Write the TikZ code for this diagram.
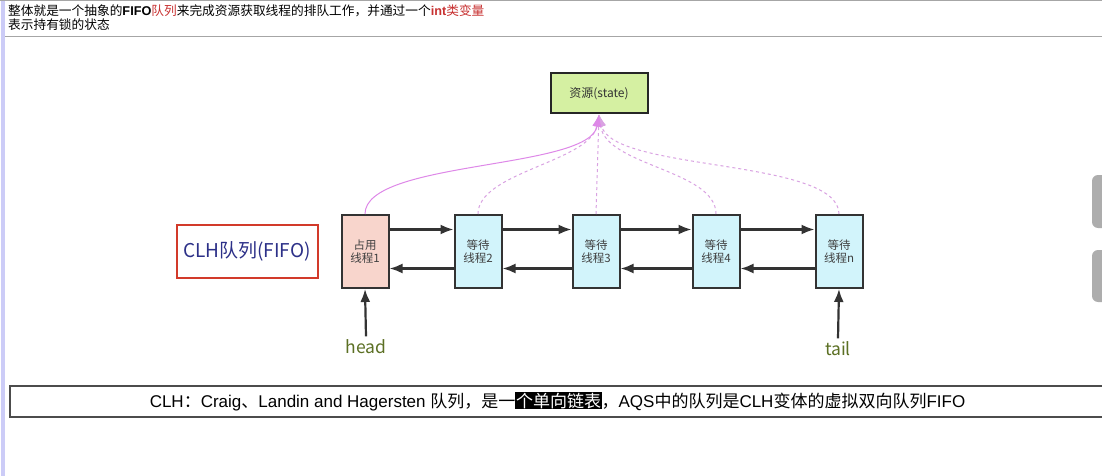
\documentclass[tikz,border=0pt]{standalone}
\usepackage{fontspec}
\setmainfont{Liberation Sans}
\newfontfamily\cjk{Noto Sans CJK SC}
\usetikzlibrary{arrows.meta,positioning}
\definecolor{holdred}{HTML}{F8D5CC}
\definecolor{waitblue}{HTML}{D2F4FB}
\definecolor{resgreen}{HTML}{D5F0A2}
\definecolor{linkviolet}{HTML}{D9A2E2}
\definecolor{tipviolet}{HTML}{DE88E8}
\definecolor{labelgreen}{HTML}{5C7024}
\definecolor{clhnavy}{HTML}{2C3088}
\definecolor{clhred}{HTML}{D23A2A}
\definecolor{headred}{HTML}{C83232}
\tikzstyle{thread}=[rectangle,draw=black!80,line width=2pt,minimum width=47pt,minimum height=73pt,inner sep=0pt,align=center,font=\cjk\fontsize{11.5}{13}\selectfont,text=black!75]
\tikzstyle{hold}=[thread,fill=holdred]
\tikzstyle{wait}=[thread,fill=waitblue]
\tikzstyle{resbox}=[rectangle,draw=black!85,line width=2pt,fill=resgreen,minimum width=97pt,minimum height=40pt,inner sep=0pt,font=\cjk\fontsize{12}{14}\selectfont,text=black!80]
\tikzstyle{link}=[-{Latex[length=13pt,width=10pt]},line width=2.2pt,draw=black!80]
\tikzstyle{share}=[-{Latex[length=12pt,width=9pt]},draw=linkviolet,line width=1pt]
\tikzstyle{pointer}=[font=\cjk\fontsize{17.5}{19}\selectfont,text=labelgreen]

\begin{document}
\begin{tikzpicture}[x=1pt,y=-1pt]
	  \useasboundingbox (0,0) rectangle (1102,476);
	  % window chrome
	  \fill [white] (0,0) rectangle (1102,476);
	  \fill [black!15!blue!20] (1,0) rectangle (5,476);
	  \draw [black!35,line width=1pt] (0,0.5) -- (1102,0.5);
	  \draw [black!35,line width=1pt] (5,37) -- (1102,37);
	  \fill [black!32,rounded corners=6pt] (1092,175) rectangle (1112,228);
	  \fill [black!32,rounded corners=6pt] (1092,250) rectangle (1112,302);
	  % header
	  \node (title) at (8,5) [anchor=north west,align=left,inner sep=0pt,font=\fontsize{12.7}{13.5}\selectfont] {{\cjk 整体就是一个抽象的}\textbf{FIFO}{\cjk\color{headred}队列}{\cjk 来完成资源获取线程的排队工作，并通过一个}\textcolor{headred}{\textbf{int}{\cjk 类变量}}\\{\cjk 表示持有锁的状态}};
	  % nodes
	  \node (res) at (599,93.5) [resbox] {资源(state)};
	  \node (t1) at (365,251.5) [hold] {占用\\线程1};
	  \node (t2) at (478,251.5) [wait] {等待\\线程2};
	  \node (t3) at (596,251.5) [wait] {等待\\线程3};
	  \node (t4) at (716,251.5) [wait] {等待\\线程4};
	  \node (tn) at (839,251.5) [wait] {等待\\线程n};
	  \node (clh) at (247,251) [rectangle,draw=clhred,line width=2pt,minimum width=141pt,minimum height=53pt,font=\cjk\fontsize{19}{21}\selectfont,text=clhnavy] {CLH队列(FIFO)};
	  \node (head) at (366,347) [pointer] {head};
	  \node (tail) at (838,349) [pointer] {tail};
	  % links
	  \draw [link] ([yshift=22pt]t1.east) -- ([yshift=22pt]t2.west);
	  \draw [link] ([yshift=22pt]t2.east) -- ([yshift=22pt]t3.west);
	  \draw [link] ([yshift=22pt]t3.east) -- ([yshift=22pt]t4.west);
	  \draw [link] ([yshift=22pt]t4.east) -- ([yshift=22pt]tn.west);
	  \draw [link] ([yshift=-17pt]t2.west) -- ([yshift=-17pt]t1.east);
	  \draw [link] ([yshift=-17pt]t3.west) -- ([yshift=-17pt]t2.east);
	  \draw [link] ([yshift=-17pt]t4.west) -- ([yshift=-17pt]t3.east);
	  \draw [link] ([yshift=-17pt]tn.west) -- ([yshift=-17pt]t4.east);
	  \draw [link] (head.north) -- (t1.south);
	  \draw [link] (tail.north) -- (tn.south);
	  % state
	  \draw [share,dashed] (t2.north) .. controls (478,172) and (590,162) .. (res.south);
	  \draw [share,dashed] (t3.north) -- (res.south);
	  \draw [share,dashed] (t4.north) .. controls (716,170) and (606,166) .. (res.south);
	  \draw [share,dashed] (tn.north) .. controls (839,158) and (612,172) .. (res.south);
	  \draw [share,-{Latex[length=12pt,width=9pt,fill=tipviolet]},tipviolet] (t1.north) .. controls (365,160) and (590,170) .. (res.south);
	  % note
	  \node (note) at (557.5,401.5) [rectangle,draw=black!70,line width=2pt,minimum width=1095pt,minimum height=31pt,inner sep=0pt,font=\fontsize{17}{18}\selectfont] {CLH{\cjk ：}Craig{\cjk 、}Landin and Hagersten {\cjk 队列，是一}{\setlength{\fboxsep}{0.6pt}\colorbox{black}{\cjk\color{white}个单向链表}}{\cjk ，}AQS{\cjk 中的队列是}CLH{\cjk 变体的虚拟双向队列}FIFO};
    %
    \end{tikzpicture}
\end{document}
